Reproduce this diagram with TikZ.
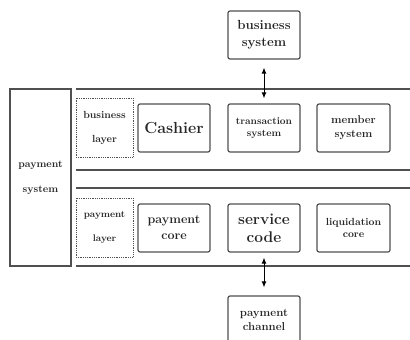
\documentclass[tikz,border=0pt]{standalone}
\usepackage{tikz}
\usetikzlibrary{calc}
\usetikzlibrary{arrows.meta}
\definecolor{linegray}{HTML}{505050}
\definecolor{textgray}{HTML}{262626}
\newcommand{\fsz}[2]{\fontsize{#1}{#2}\selectfont\bfseries}
\tikzset{
  sysbox/.style={draw=linegray,line width=1.2pt,rounded corners=2pt,
    minimum width=72pt,minimum height=48pt,align=center,text=textgray,inner sep=1pt},
  layerbox/.style={draw=linegray,densely dotted,line width=0.8pt,
    minimum width=57pt,minimum height=59pt,align=center,text=textgray,inner sep=1pt},
  layerline/.style={draw=linegray,line width=1.4pt},
  linkarrow/.style={{Latex[length=6pt,width=5pt]}-{Latex[length=6pt,width=5pt]},line width=1pt,draw=black},
}

\begin{document}
\begin{tikzpicture}[x=1pt,y=-1pt]
            % 画像の範囲
            \clip (0,0) rectangle (410,340);

            % 層の区切り線
            \draw[layerline] (76,89)--(410,89);
            \draw[layerline] (76,170)--(410,170);
            \draw[layerline] (76,188)--(410,188);
            \draw[layerline] (76,266)--(410,266);

            % 支払システム
            \node[draw=linegray,line width=1.2pt,minimum width=61pt,minimum height=177pt,
              align=center,text=textgray,font=\fsz{10.3}{25}] (paysys) at (40.5,177.5) {payment\\system};

            % 業務層
            \node[layerbox,font=\fsz{10.3}{24}] (bizlayer) at (104.5,127.5) {business\\layer};
            \node[sysbox,font=\fsz{16}{18}] (cashier) at (174,128) {Cashier};
            \node[sysbox,font=\fsz{10}{12.5}] (trans) at (264,128) {transaction\\system};
            \node[sysbox,minimum width=73pt,font=\fsz{11.2}{14}] (member) at (353.5,128) {member\\system};

            % 支払層
            \node[layerbox,font=\fsz{9.6}{24}] (paylayer) at (104.5,227.5) {payment\\layer};
            \node[sysbox,font=\fsz{12.5}{16}] (paycore) at (174,228) {payment\\core};
            \node[sysbox,font=\fsz{15.5}{18}] (service) at (264,228) {service\\code};
            \node[sysbox,minimum width=73pt,font=\fsz{10.3}{12.5}] (liquid) at (353.5,228) {liquidation\\core};

            % 外部システム
            \node[sysbox,font=\fsz{13.2}{17}] (bizsys) at (264,35) {business\\system};
            \node[sysbox,font=\fsz{11.4}{13.5}] (channel) at (264,320) {payment\\channel};

            \draw[linkarrow,shorten <=8pt,shorten >=5pt] (bizsys)--(trans);
            \draw[linkarrow,shorten <=5pt,shorten >=8pt] (service)--(channel);

        \end{tikzpicture}
\end{document}
